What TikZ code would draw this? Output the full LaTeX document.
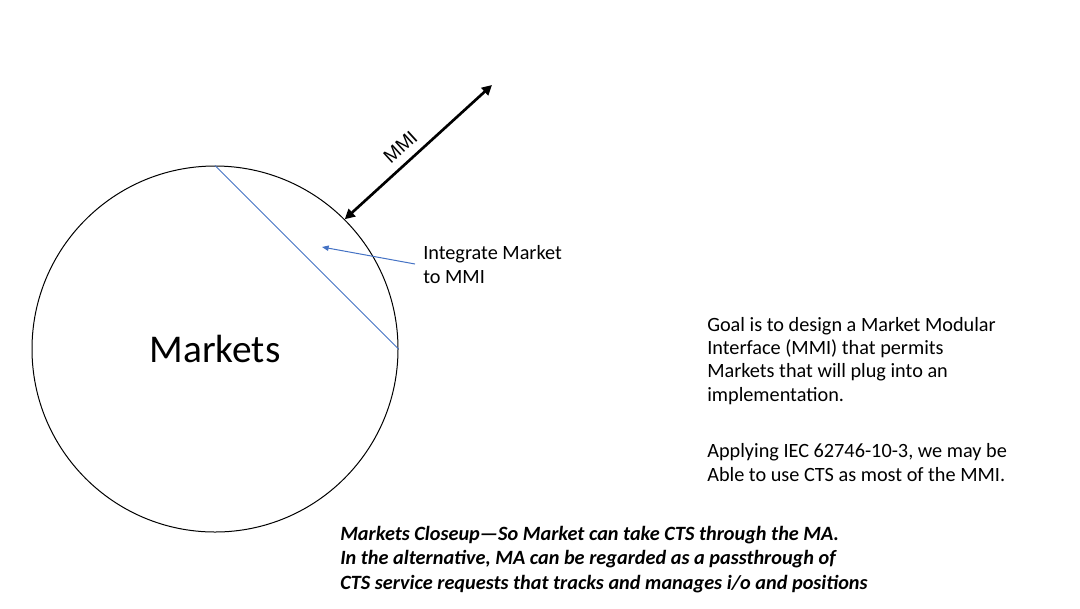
\documentclass[tikz,border=0pt]{standalone}
\usepackage{fontspec}
\setmainfont{Carlito}
\newfontfamily\mmifont{Liberation Sans}
\usetikzlibrary{
  arrows.meta
 , calc
}
\definecolor{mablue}{RGB}{68,114,196}

\begin{document}
\begin{tikzpicture}[x=0.75pt, y=-0.75pt,
    note/.style={anchor=base west, align=left, inner sep=0pt,
      font=\fontsize{15.2}{17.5}\selectfont},
    bluepen/.style={mablue, line width=0.75pt}]
      \useasboundingbox (0,0) rectangle (1080,608);

      \node [circle,
        draw=black,
        line width=0.75pt,
        minimum size=274.5pt,
        inner sep=0pt,
        font=\fontsize{29.5}{35}\selectfont] (mkt) at (215,349) {Markets};

      \coordinate (mmitop) at (492,85);
      \coordinate (inttail) at (415,264);
      \coordinate (inttip) at (322,247);

      \draw [bluepen] (mkt.north) -- (mkt.east);
      \draw [line width=2pt,
        {Triangle[length=7.5pt,width=7.5pt]}-{Triangle[length=7.5pt,width=7.5pt]}]
        (mkt.45) -- node[pos=0.45, sloped, above=2.5pt, font=\mmifont\fontsize{14.5}{17}\selectfont]{MMI} (mmitop);

      \node [note] (int) at (423,283) {Integrate Market\\to MMI};
      \draw [bluepen, -{Triangle[length=5pt,width=4pt]}] (inttail) -- (inttip);

      \node [note] (goal) at (707,481) {Goal is to design a Market Modular\\
        Interface (MMI) that permits\\
        Markets that will plug into an\\
        implementation.\\[25pt]
        Applying IEC 62746-10-3, we may be\\
        Able to use CTS as most of the MMI.};

      \node [note, font=\fontsize{15.2}{18.2}\selectfont\bfseries\itshape] (closeup) at (340,589)
        {Markets Closeup—So Market can take CTS through the MA.\\
        In the alternative, MA can be regarded as a passthrough of\\
        CTS service requests that tracks and manages i/o and positions};
    \end{tikzpicture}
\end{document}
